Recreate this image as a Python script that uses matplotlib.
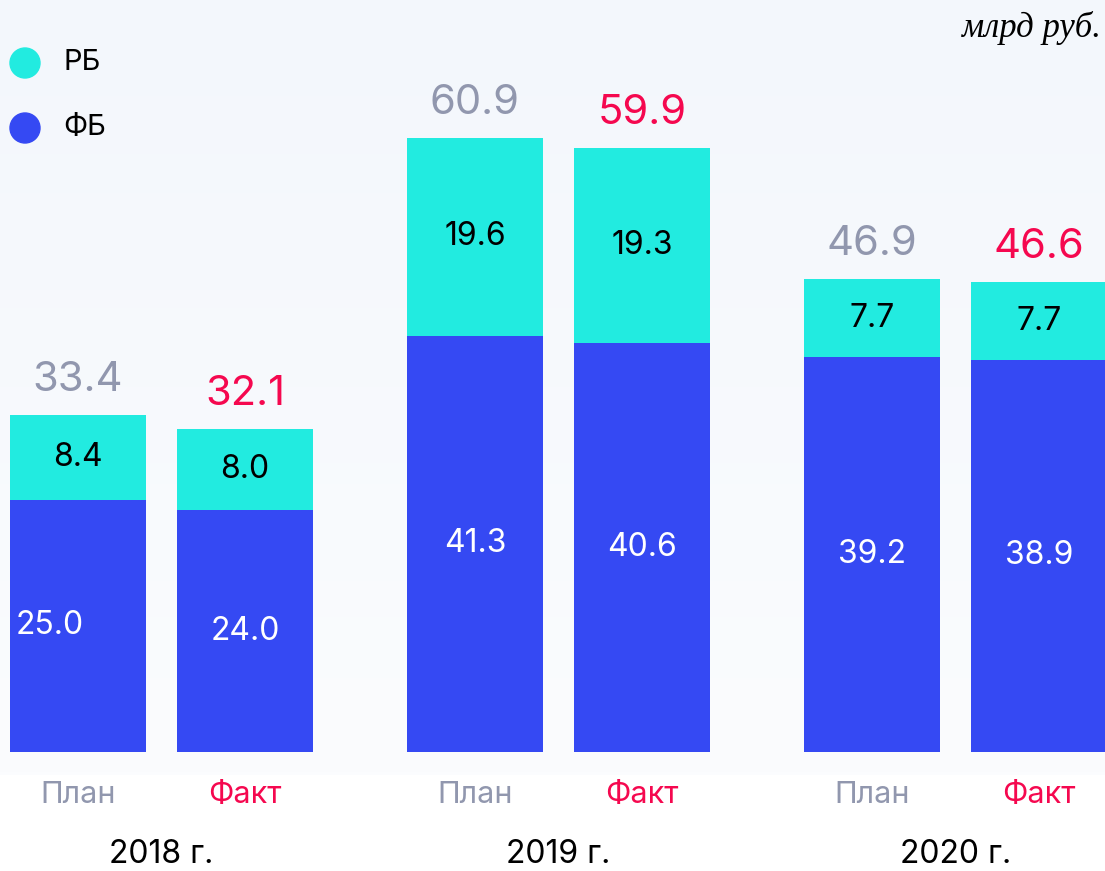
import matplotlib.pyplot as plt
from matplotlib.patches import Ellipse
from matplotlib.colors import LinearSegmentedColormap
import numpy as np

# data (млрд руб.)
years = ['2018 г.', '2019 г.', '2020 г.']
kinds = ['План', 'Факт']
fb = [25.0, 24.0, 41.3, 40.6, 39.2, 38.9]   # federal budget
rb = [8.4, 8.0, 19.6, 19.3, 7.7, 7.7]       # regional budget
totals = ['33.4', '32.1', '60.9', '59.9', '46.9', '46.6']

cyan = '#22ebe0'
blue = '#3549f3'
gray = '#9197ae'
red = '#f5084f'

plt.rcParams['font.family'] = ['Inter', 'DejaVu Sans']

W, H = 1105, 871
fig = plt.figure(figsize=(W / 100, H / 100), dpi=100)

# light background gradient behind the bars
bg = fig.add_axes([0, 96 / H, 1, 775 / H])
grad = np.linspace(0, 1, 256).reshape(-1, 1)
bg.imshow(grad, aspect='auto', extent=[0, 1, 0, 1], origin='lower',
          cmap=LinearSegmentedColormap.from_list('g', ['#fbfcfe', '#f3f7fc']))
bg.axis('off')

ax = fig.add_axes([0, 119 / H, 1, 752 / H])
ax.set_xlim(0, 11.05)
ax.set_ylim(0, 74.6)
ax.axis('off')

width = 1.36
x = []
for g in range(3):
    c = 1.615 + 3.97 * g
    x += [c - 0.835, c + 0.835]
x = np.array(x)

ax.bar(x, fb, width, color=blue)
ax.bar(x, rb, width, bottom=fb, color=cyan)

for i in range(6):
    ax.text(x[i] - (0.28 if i == 0 else 0), fb[i] / 2, f'{fb[i]:.1f}', ha='center', va='center',
            color='white', fontsize=23)
    ax.text(x[i], fb[i] + rb[i] / 2, f'{rb[i]:.1f}', ha='center', va='center',
            color='black', fontsize=23)
    ax.text(x[i], fb[i] + rb[i] + 1.6, totals[i], ha='center', va='bottom',
            color=gray if i % 2 == 0 else red, fontsize=30)
    ax.text(x[i], -4.3, kinds[i % 2], ha='center', va='center',
            color=gray if i % 2 == 0 else red, fontsize=22)

for g in range(3):
    fig.text(((x[2 * g] + x[2 * g + 1]) / 2) / 11.05, 1 / H, years[g], ha='center',
             va='bottom', color='black', fontsize=23)

# legend
for yy, col, lab in [(63, cyan, 'РБ'), (128, blue, 'ФБ')]:
    fig.patches.append(Ellipse((25 / W, 1 - yy / H), 30 / W, 30 / H,
                               transform=fig.transFigure, color=col, figure=fig))
    fig.text(63 / W, 1 - yy / H, lab, va='center', fontsize=21)

fig.text(1101 / W, 1 - 28 / H, 'млрд руб.', ha='right', va='center',
         fontsize=25, style='italic', family='Liberation Serif')

plt.savefig('out.png', dpi=100)
